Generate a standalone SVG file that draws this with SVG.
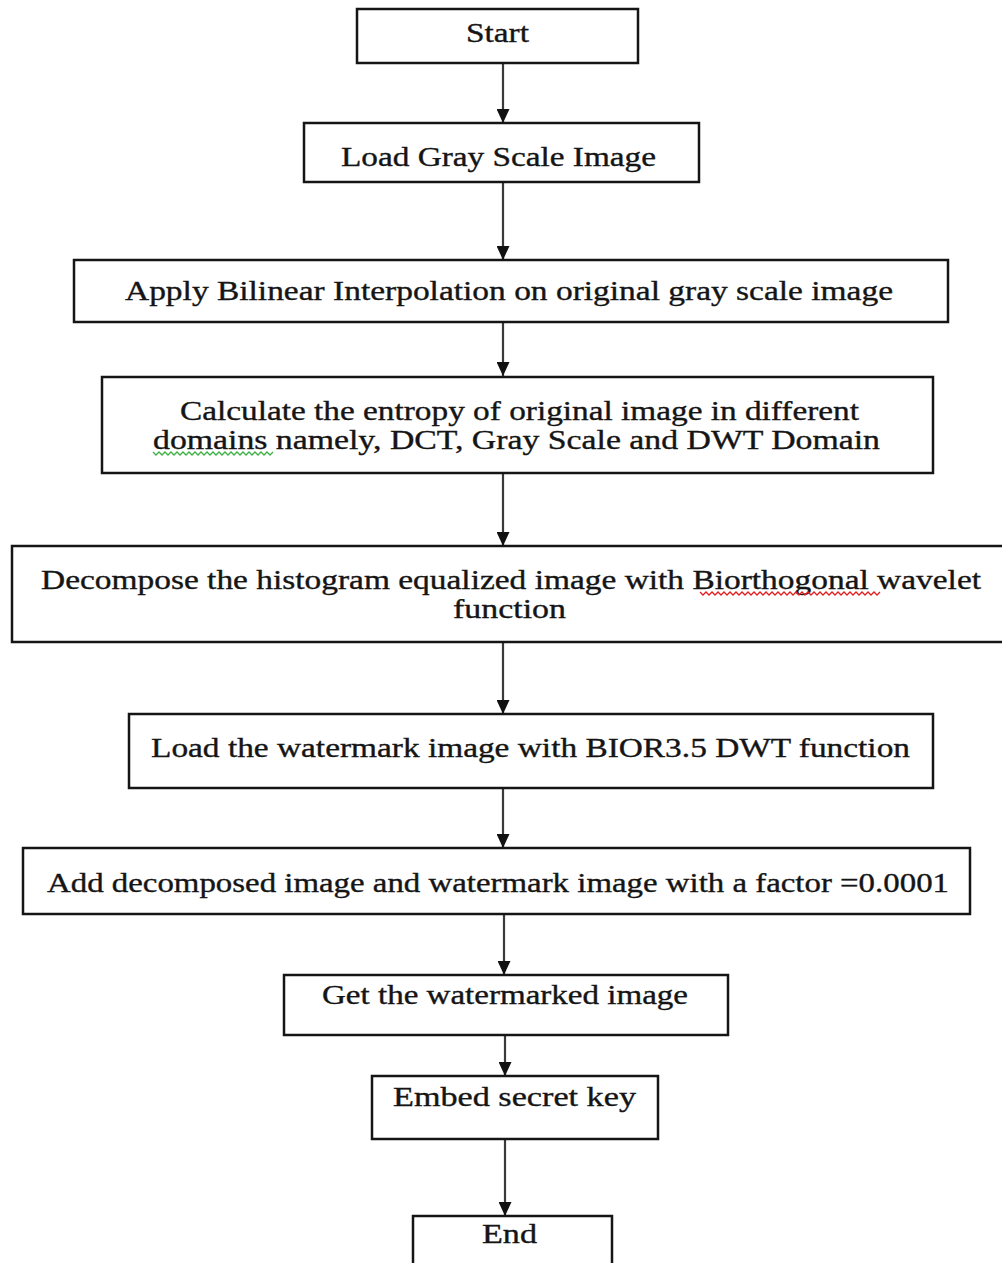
<svg xmlns="http://www.w3.org/2000/svg" width="1002" height="1263" viewBox="0 0 1002 1263">
<style>
.box{fill:#fff;stroke:#151515;stroke-width:2.5}
.t{font-family:"Liberation Serif","Times New Roman",serif;font-size:26.5px;fill:#151515;stroke:#151515;stroke-width:0.35}
.c{stroke:#3a3a3a;stroke-width:2.2;fill:none}
.sq{fill:none;stroke-width:1.3}
</style>
<defs>
<marker id="ah" markerWidth="14" markerHeight="13" refX="14" refY="6.5" orient="auto" markerUnits="userSpaceOnUse">
<path d="M0,0 L14,6.5 L0,13 Z" fill="#111"/>
</marker>
</defs>
<rect width="1002" height="1263" fill="#fff"/>
<g id="connectors">
<line class="c" x1="503" y1="63" x2="503" y2="123" marker-end="url(#ah)"/>
<line class="c" x1="503" y1="182" x2="503" y2="260" marker-end="url(#ah)"/>
<line class="c" x1="503" y1="322" x2="503" y2="376" marker-end="url(#ah)"/>
<line class="c" x1="503" y1="473" x2="503" y2="546" marker-end="url(#ah)"/>
<line class="c" x1="503" y1="642" x2="503" y2="714" marker-end="url(#ah)"/>
<line class="c" x1="503" y1="788" x2="503" y2="848" marker-end="url(#ah)"/>
<line class="c" x1="504" y1="914" x2="504" y2="975" marker-end="url(#ah)"/>
<line class="c" x1="505" y1="1035" x2="505" y2="1076" marker-end="url(#ah)"/>
<line class="c" x1="505" y1="1139" x2="505" y2="1216" marker-end="url(#ah)"/>
</g>
<g id="start">
<rect class="box" x="357" y="9" width="281" height="54"/>
<text class="t" x="466" y="42" textLength="63" lengthAdjust="spacingAndGlyphs">Start</text>
</g>
<g id="load-gray">
<rect class="box" x="304" y="123" width="395" height="59"/>
<text class="t" x="341" y="166" textLength="315" lengthAdjust="spacingAndGlyphs">Load Gray Scale Image</text>
</g>
<g id="bilinear">
<rect class="box" x="74" y="260" width="874" height="62"/>
<text class="t" x="125" y="300" textLength="768" lengthAdjust="spacingAndGlyphs">Apply Bilinear Interpolation on original gray scale image</text>
</g>
<g id="entropy">
<rect class="box" x="102" y="377" width="831" height="96"/>
<text class="t" x="180" y="420" textLength="679" lengthAdjust="spacingAndGlyphs">Calculate the entropy of original image in different</text>
<text class="t" x="153" y="449" textLength="727" lengthAdjust="spacingAndGlyphs">domains namely, DCT, Gray Scale and DWT Domain</text>
<path class="sq" stroke="#3cb043" d="M153,452 l3,3 l3,-3 l3,3 l3,-3 l3,3 l3,-3 l3,3 l3,-3 l3,3 l3,-3 l3,3 l3,-3 l3,3 l3,-3 l3,3 l3,-3 l3,3 l3,-3 l3,3 l3,-3 l3,3 l3,-3 l3,3 l3,-3 l3,3 l3,-3 l3,3 l3,-3 l3,3 l3,-3 l3,3 l3,-3 l3,3 l3,-3 l3,3 l3,-3 l3,3 l3,-3 l3,3 l3,-3"/>
</g>
<g id="decompose">
<rect class="box" x="12" y="546" width="994" height="96"/>
<text class="t" x="41" y="589" textLength="940" lengthAdjust="spacingAndGlyphs">Decompose the histogram equalized image with Biorthogonal wavelet</text>
<text class="t" x="453" y="618" textLength="113" lengthAdjust="spacingAndGlyphs">function</text>
<path class="sq" stroke="#e02020" d="M700,592 l3,3 l3,-3 l3,3 l3,-3 l3,3 l3,-3 l3,3 l3,-3 l3,3 l3,-3 l3,3 l3,-3 l3,3 l3,-3 l3,3 l3,-3 l3,3 l3,-3 l3,3 l3,-3 l3,3 l3,-3 l3,3 l3,-3 l3,3 l3,-3 l3,3 l3,-3 l3,3 l3,-3 l3,3 l3,-3 l3,3 l3,-3 l3,3 l3,-3 l3,3 l3,-3 l3,3 l3,-3 l3,3 l3,-3 l3,3 l3,-3 l3,3 l3,-3 l3,3 l3,-3 l3,3 l3,-3 l3,3 l3,-3 l3,3 l3,-3 l3,3 l3,-3 l3,3 l3,-3 l3,3 l3,-3"/>
</g>
<g id="load-watermark">
<rect class="box" x="129" y="714" width="804" height="74"/>
<text class="t" x="151" y="757" textLength="759" lengthAdjust="spacingAndGlyphs">Load the watermark image with BIOR3.5 DWT function</text>
</g>
<g id="add">
<rect class="box" x="23" y="848" width="947" height="66"/>
<text class="t" x="47" y="892" textLength="902" lengthAdjust="spacingAndGlyphs">Add decomposed image and watermark image with a factor =0.0001</text>
</g>
<g id="get-watermarked">
<rect class="box" x="284" y="975" width="444" height="60"/>
<text class="t" x="322" y="1004" textLength="366" lengthAdjust="spacingAndGlyphs">Get the watermarked image</text>
</g>
<g id="embed">
<rect class="box" x="372" y="1076" width="286" height="63"/>
<text class="t" x="393" y="1106" textLength="243" lengthAdjust="spacingAndGlyphs">Embed secret key</text>
</g>
<g id="end">
<rect class="box" x="413" y="1216" width="199" height="60"/>
<text class="t" x="482" y="1243" textLength="55" lengthAdjust="spacingAndGlyphs">End</text>
</g>
</svg>
